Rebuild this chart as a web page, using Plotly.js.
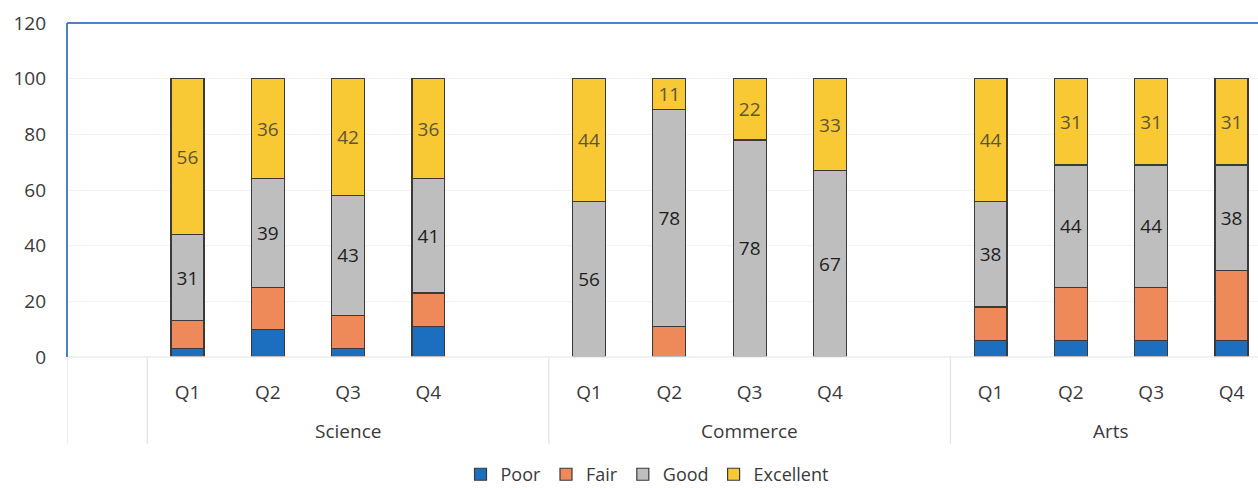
<!DOCTYPE html>
<html>
<head>
<meta charset="utf-8">
<script src="https://cdn.plot.ly/plotly-3.0.1.min.js"></script>
<style>
html,body{margin:0;padding:0;background:#fff;overflow:hidden;}
#chart{width:1258px;height:488px;}
</style>
</head>
<body>
<div id="chart"></div>
<script>
// ---- data ----
const groups = ['Science', 'Commerce', 'Arts'];
const quarters = ['Q1', 'Q2', 'Q3', 'Q4'];
const seriesNames = ['Poor', 'Fair', 'Good', 'Excellent'];
const poor      = [3, 10, 3, 11,   0, 0, 0, 0,     6, 6, 6, 6];
const fair      = [10, 15, 12, 12, 0, 11, 0, 0,    12, 19, 19, 25];
const good      = [31, 39, 43, 41, 56, 78, 78, 67, 38, 44, 44, 38];
const excellent = [56, 36, 42, 36, 44, 11, 22, 33, 44, 31, 31, 31];
const yTicks = [0, 20, 40, 60, 80, 100, 120];

// ---- layout helpers ----
const SLOTS_PER_GROUP = 5;   // 4 quarters + one blank slot
const LEAD = 1;              // blank slot before first group
const xPos = [];
const xLabels = [];
groups.forEach((g, gi) => quarters.forEach((q, qi) => {
  xPos.push(LEAD + gi * SLOTS_PER_GROUP + qi);
  xLabels.push(q);
}));

const FONT = '"Open Sans", "Liberation Sans", sans-serif';
const FS = 19;
const TXT = '#3a3a3a';
const colors = ['#1B6FBE', '#EE8A5A', '#BEBEBE', '#F8C934'];
const labelColors = [null, null, '#1e1e1e', '#5e5537'];
const values = [poor, fair, good, excellent];
const showLabels = [false, false, true, true];

const traces = values.map((vals, i) => ({
  type: 'bar',
  name: seriesNames[i],
  x: xPos,
  y: vals.map(v => v === 0 ? null : v),
  marker: {color: colors[i], line: {color: '#3a3a3a', width: 1.2}},
  text: showLabels[i] ? vals.map(v => v === 0 ? '' : String(v)) : undefined,
  textposition: showLabels[i] ? 'inside' : 'none',
  insidetextanchor: 'middle',
  textangle: 0,
  constraintext: 'none',
  textfont: {family: FONT, size: FS, color: labelColors[i] || '#000'},
  hoverinfo: 'skip'
}));

// group label annotations & separators
const annotations = groups.map((g, gi) => {
  const start = LEAD + gi * SLOTS_PER_GROUP - 0.5;
  const n = gi === groups.length - 1 ? quarters.length : SLOTS_PER_GROUP;
  return {
    x: start + n / 2, xref: 'x',
    y: -0.222, yref: 'paper', yanchor: 'middle',
    text: g, showarrow: false,
    font: {family: FONT, size: FS, color: TXT}
  };
});

const sepColor = '#e4e4e4';
const shapes = [];
const sepXs = [-0.5].concat(groups.map((g, gi) => LEAD + gi * SLOTS_PER_GROUP - 0.5));
sepXs.forEach(x => shapes.push({
  type: 'line', xref: 'x', yref: 'paper', x0: x, x1: x, y0: 0, y1: -0.26,
  line: {color: sepColor, width: 1.3}
}));
// light category baseline
shapes.push({type: 'line', xref: 'paper', yref: 'paper', x0: 0, x1: 1, y0: 0, y1: 0,
  line: {color: '#ececec', width: 1.3}});
// blue outline (top and left)
shapes.push({type: 'line', xref: 'paper', yref: 'paper', x0: 0, x1: 1, y0: 1, y1: 1,
  line: {color: '#4d80c6', width: 2}});
shapes.push({type: 'line', xref: 'paper', yref: 'paper', x0: 0, x1: 0, y0: 0, y1: 1,
  line: {color: '#4d80c6', width: 2}});

const layout = {
  width: 1258, height: 488,
  margin: {l: 67, r: 0, t: 23, b: 131, autoexpand: false},
  paper_bgcolor: '#fff', plot_bgcolor: '#fff',
  barmode: 'stack',
  bargap: 0.59,
  showlegend: true,
  legend: {
    orientation: 'h', x: 0.487, xanchor: 'center', y: -0.352, yanchor: 'middle',
    font: {family: FONT, size: 18, color: TXT},
    itemwidth: 30, traceorder: 'normal'
  },
  xaxis: {
    type: 'linear', automargin: false,
    range: [-0.5, 14.33],
    tickmode: 'array', tickvals: xPos, ticktext: xLabels,
    ticks: '', showgrid: false, zeroline: false, showline: false,
    ticklabelstandoff: 22,
    tickfont: {family: FONT, size: FS, color: TXT},
    fixedrange: true
  },
  yaxis: {
    range: [0, 120], automargin: false,
    tickmode: 'array', tickvals: yTicks,
    ticks: '', showgrid: true, gridcolor: '#f3f3f3', gridwidth: 1,
    zeroline: false, showline: false,
    ticklabelstandoff: 20,
    tickfont: {family: FONT, size: FS, color: TXT},
    fixedrange: true
  },
  annotations: annotations,
  shapes: shapes,
  font: {family: FONT}
};

Plotly.newPlot('chart', traces, layout, {displayModeBar: false, staticPlot: true});
</script>
</body>
</html>
